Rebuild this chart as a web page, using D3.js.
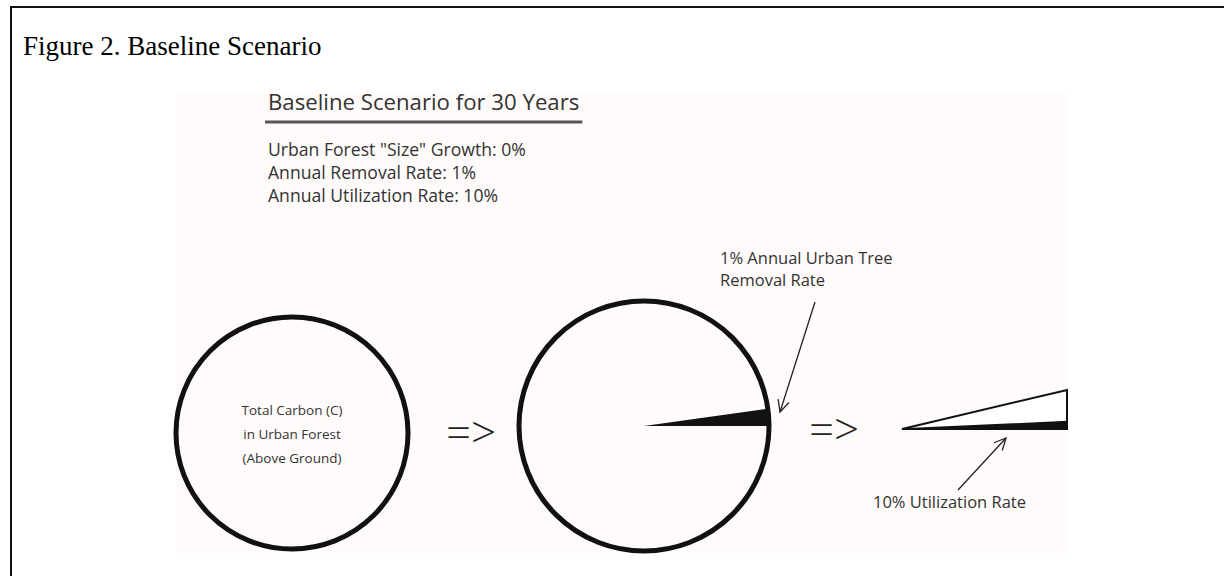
<!DOCTYPE html>
<html><head><meta charset="utf-8">
<script src="https://cdn.jsdelivr.net/npm/d3@7/dist/d3.min.js"></script>
<style>
html,body{margin:0;padding:0;background:#fff;}
svg{display:block;}
</style></head>
<body><svg id="c" width="1224" height="576"></svg>
<script>
// ---------- data ----------
const figureTitle = "Figure 2. Baseline Scenario";
const scenarioTitle = "Baseline Scenario for 30 Years";
const scenarioLines = ['Urban Forest "Size" Growth: 0%', "Annual Removal Rate: 1%", "Annual Utilization Rate: 10%"];
const stageNames = ["forest", "removal", "utilization"];
const forestLabel = ["Total Carbon (C)", "in Urban Forest", "(Above Ground)"];
const removalLabel = ["1% Annual Urban Tree", "Removal Rate"];
const utilLabel = ["10% Utilization Rate"];
const transitionSymbols = ["=>", "=>"];
// drawn share of the removal wedge within the circle (as drawn in the figure)
const removalShares = [0.022, 0.978];
// drawn share of the utilized part within the removed wedge (triangle height)
const utilShares = [0.19, 0.81];

// ---------- layout ----------
const svg = d3.select("#c");
const serif = "'Liberation Serif','Times New Roman',serif";
const sans = "'Open Sans','Noto Sans',sans-serif";

// frame (only top and left edges visible)
svg.append("rect").attr("x", 11).attr("y", 7).attr("width", 1300).attr("height", 700)
  .attr("fill", "none").attr("stroke", "#111").attr("stroke-width", 2);

svg.append("text").attr("x", 23).attr("y", 55).attr("font-family", serif)
  .attr("font-size", 27).attr("fill", "#000").text(figureTitle);

// faint image background
svg.append("rect").attr("x", 176).attr("y", 94).attr("width", 891).attr("height", 459).attr("fill", "#fffbfa");

const g = svg.append("g");

// scenario header
const head = g.append("g").attr("transform", "translate(268,0)");
const st = head.append("text").attr("x", 0).attr("y", 110).attr("font-family", sans)
  .attr("font-size", 22.2).attr("fill", "#333").text(scenarioTitle);
const stw = st.node().getComputedTextLength();
head.append("line").attr("x1", -3).attr("x2", stw + 3).attr("y1", 122).attr("y2", 122)
  .attr("stroke", "#555").attr("stroke-width", 3);
const lineY = d3.scalePoint().domain(scenarioLines).range([156, 202]);
head.selectAll("text.sl").data(scenarioLines).join("text").attr("class", "sl")
  .attr("x", 0).attr("y", d => lineY(d)).attr("font-family", sans).attr("font-size", 17.6)
  .attr("fill", "#333").text(d => d);

// stage positions
const stageX = d3.scaleOrdinal().domain(stageNames).range([292, 644, 902]);
const stageY = d3.scaleOrdinal().domain(stageNames).range([433, 426, 429]);
const stageR = d3.scaleOrdinal().domain(stageNames).range([116, 125, 0]);

// circle 1
g.append("circle").attr("cx", stageX("forest")).attr("cy", stageY("forest")).attr("r", stageR("forest"))
  .attr("fill", "none").attr("stroke", "#111").attr("stroke-width", 5);
const fy = d3.scalePoint().domain(forestLabel).range([415, 463]);
g.selectAll("text.fl").data(forestLabel).join("text").attr("class", "fl")
  .attr("x", stageX("forest")).attr("y", d => fy(d)).attr("text-anchor", "middle")
  .attr("font-family", sans).attr("font-size", 13.5).attr("fill", "#333").text(d => d);

// circle 2 with removal wedge
const R2 = stageR("removal");
const c2 = g.append("g").attr("transform", `translate(${stageX("removal")},${stageY("removal")})`);
c2.append("circle").attr("r", R2).attr("fill", "none").attr("stroke", "#111").attr("stroke-width", 5);
const a0 = Math.PI / 2 - removalShares[0] * 2 * Math.PI;
const pie = d3.pie().sort(null).startAngle(a0).endAngle(a0 + 2 * Math.PI);
const arcs = pie(removalShares);
c2.append("path").attr("d", d3.arc().innerRadius(0).outerRadius(R2)(arcs[0])).attr("fill", "#111");

// transition symbols
const symX = d3.scaleOrdinal().domain([0, 1]).range([471, 834]);
const symY = d3.scaleOrdinal().domain([0, 1]).range([433, 430]);
g.selectAll("text.sym").data(transitionSymbols).join("text").attr("class", "sym")
  .attr("x", (d, i) => symX(i)).attr("y", (d, i) => symY(i) + 15).attr("text-anchor", "middle")
  .attr("font-family", sans).attr("font-size", 44).attr("font-weight", 300).attr("fill", "#222").text(d => d);

// utilization triangle
const tx = d3.scaleLinear().domain([0, 1]).range([stageX("utilization"), 1067]);
const ty = d3.scaleLinear().domain([0, 1]).range([stageY("utilization"), 390]);
const line = d3.line().x(d => tx(d[0])).y(d => ty(d[1]));
g.append("path").attr("d", line([[0, 0], [1, 1], [1, 0]]) + "Z").attr("fill", "#fff")
  .attr("stroke", "#111").attr("stroke-width", 2).attr("stroke-linejoin", "miter");
g.append("path").attr("d", line([[0, 0], [1, utilShares[0]], [1, 0]]) + "Z").attr("fill", "#111")
  .attr("stroke", "#111").attr("stroke-width", 1.5);

// annotation arrows
function arrow(x1, y1, x2, y2) {
  const a = Math.atan2(y2 - y1, x2 - x1), L = 13, s = 0.45;
  g.append("line").attr("x1", x1).attr("y1", y1).attr("x2", x2).attr("y2", y2)
    .attr("stroke", "#222").attr("stroke-width", 1.3);
  g.append("path").attr("d",
    `M${x2 - L * Math.cos(a - s)},${y2 - L * Math.sin(a - s)}L${x2},${y2}L${x2 - L * Math.cos(a + s)},${y2 - L * Math.sin(a + s)}`)
    .attr("fill", "none").attr("stroke", "#222").attr("stroke-width", 1.3);
}
arrow(815, 302, 780, 412);
arrow(958, 490, 1006, 438);

const ry = d3.scalePoint().domain(removalLabel).range([264, 286]);
g.selectAll("text.rl").data(removalLabel).join("text").attr("class", "rl")
  .attr("x", 720).attr("y", d => ry(d)).attr("font-family", sans).attr("font-size", 16.5)
  .attr("fill", "#333").text(d => d);
g.selectAll("text.ul").data(utilLabel).join("text").attr("class", "ul")
  .attr("x", 873).attr("y", 508).attr("font-family", sans).attr("font-size", 16.5)
  .attr("fill", "#333").text(d => d);
</script></body></html>
